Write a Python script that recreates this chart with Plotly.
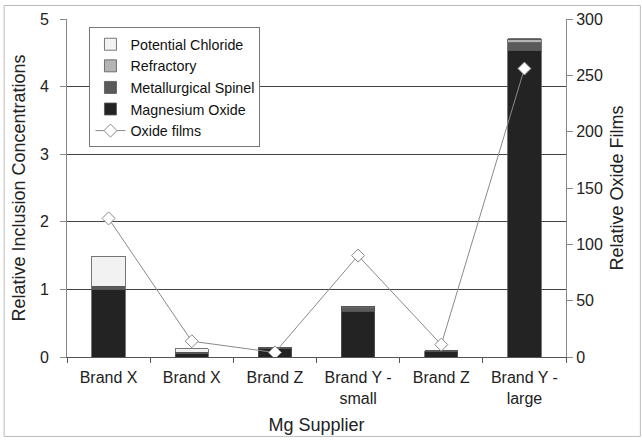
import plotly.graph_objects as go

categories = ["Brand X", "Brand X", "Brand Z", "Brand Y -<br>small", "Brand Z", "Brand Y -<br>large"]
magnesium_oxide = [1.00, 0.05, 0.13, 0.68, 0.08, 4.53]
metallurgical_spinel = [0.05, 0.01, 0.01, 0.05, 0.01, 0.12]
refractory = [0.00, 0.01, 0.00, 0.01, 0.00, 0.05]
potential_chloride = [0.44, 0.05, 0.00, 0.00, 0.00, 0.01]
oxide_films = [123, 14, 4, 90, 11, 256]

xpos = list(range(len(categories)))
font = "Liberation Sans, Arial, sans-serif"

fig = go.Figure()
bar_specs = [
    ("Magnesium Oxide", magnesium_oxide, "#232323", 4),
    ("Metallurgical Spinel", metallurgical_spinel, "#5a5a5a", 3),
    ("Refractory", refractory, "#b4b4b4", 2),
    ("Potential Chloride", potential_chloride, "#f2f2f2", 1),
]
for name, vals, col, rank in bar_specs:
    fig.add_trace(go.Bar(
        x=xpos, y=vals, name=name, legendrank=rank,
        marker=dict(color=col, line=dict(color="#555555", width=0.8)),
        width=0.4,
    ))

fig.add_trace(go.Scatter(
    x=xpos, y=oxide_films, name="Oxide films", yaxis="y2", legendrank=5,
    mode="lines+markers",
    line=dict(color="#8a8a8a", width=1),
    marker=dict(symbol="diamond", size=10, color="white",
                line=dict(color="#8a8a8a", width=1)),
))

fig.update_layout(
    width=642, height=441,
    margin=dict(l=67, r=76, t=19, b=84, autoexpand=False),
    paper_bgcolor="white", plot_bgcolor="white",
    barmode="stack",
    font=dict(family=font, size=16, color="#222"),
    showlegend=True,
    legend=dict(
        x=0.045, y=0.975, xanchor="left", yanchor="top",
        traceorder="normal",
        bgcolor="white", bordercolor="#777", borderwidth=1,
        font=dict(family=font, size=14.3, color="#111"),
        tracegroupgap=0, itemwidth=30,
    ),
    xaxis=dict(
        range=[-0.5, 5.5], automargin=False,
        tickmode="array", tickvals=xpos, ticktext=categories,
        ticks="", showgrid=False,
        showline=True, linecolor="#555", linewidth=1,
        minor=dict(tick0=-0.5, dtick=1, ticks="outside", ticklen=5,
                   tickcolor="#555", showgrid=False),
        ticklabelstandoff=6,
        tickfont=dict(size=16, color="#222"),
        title=dict(text="Mg Supplier", font=dict(size=18, color="#222"), standoff=12),
        zeroline=False,
    ),
    yaxis=dict(
        range=[0, 5], dtick=1, automargin=False,
        showgrid=True, gridcolor="#444", gridwidth=1,
        showline=True, linecolor="#888", linewidth=1,
        ticks="outside", ticklen=6, tickcolor="#888",
        ticklabelstandoff=8,
        tickfont=dict(size=16, color="#222"),
        title=dict(text="Relative Inclusion Concentrations", font=dict(size=18, color="#222"), standoff=9),
        zeroline=False,
    ),
    yaxis2=dict(
        range=[0, 300], dtick=50, overlaying="y", side="right", automargin=False,
        showgrid=False,
        showline=True, linecolor="#888", linewidth=1,
        ticks="outside", ticklen=6, tickcolor="#888",
        tickfont=dict(size=16, color="#222"),
        title=dict(text="Relative Oxide Films", font=dict(size=18, color="#222"), standoff=8),
        zeroline=False,
    ),
    shapes=[dict(type="rect", xref="paper", yref="paper",
                 x0=-0.126, x1=1.149, y0=-0.235, y1=1.04,
                 line=dict(color="#bbbbbb", width=1), layer="below")],
)

fig.write_html("out.html", config={"displayModeBar": False},
               post_script="document.body.style.margin='0px';")
